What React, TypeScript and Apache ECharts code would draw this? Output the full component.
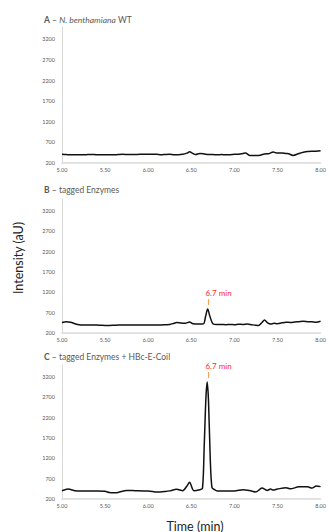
import React, { useEffect, useRef } from "react";
import * as echarts from "echarts";

// ---- Data ----
const xTicks = [5.0, 5.5, 6.0, 6.5, 7.0, 7.5, 8.0];
const yTicks = [200, 700, 1200, 1700, 2200, 2700, 3200];

const timesA = [5.0, 5.05, 5.1, 5.15, 5.2, 5.25, 5.3, 5.35, 5.4, 5.45, 5.5, 5.55, 5.6, 5.65, 5.7, 5.75, 5.8, 5.85, 5.9, 5.95, 6.0, 6.05, 6.1, 6.15, 6.2, 6.25, 6.3, 6.35, 6.4, 6.45, 6.48, 6.52, 6.55, 6.6, 6.65, 6.7, 6.75, 6.8, 6.85, 6.9, 6.95, 7.0, 7.05, 7.1, 7.13, 7.17, 7.2, 7.25, 7.3, 7.35, 7.4, 7.45, 7.5, 7.55, 7.6, 7.63, 7.68, 7.75, 7.8, 7.85, 7.9, 7.95, 8.0];
const intensityA = [410, 405, 400, 400, 400, 400, 405, 408, 400, 400, 400, 400, 400, 405, 410, 408, 405, 408, 410, 412, 415, 412, 410, 400, 408, 412, 400, 400, 410, 440, 470, 430, 405, 430, 420, 405, 405, 400, 405, 400, 402, 410, 415, 430, 440, 390, 385, 385, 390, 420, 425, 465, 440, 445, 430, 425, 385, 430, 460, 480, 485, 485, 495];

const timesB = [5.0, 5.05, 5.1, 5.15, 5.2, 5.25, 5.3, 5.35, 5.4, 5.45, 5.5, 5.55, 5.6, 5.65, 5.7, 5.75, 5.8, 5.85, 5.9, 5.95, 6.0, 6.05, 6.1, 6.15, 6.2, 6.25, 6.3, 6.33, 6.38, 6.43, 6.48, 6.52, 6.58, 6.64, 6.665, 6.69, 6.715, 6.75, 6.8, 6.85, 6.9, 6.95, 7.0, 7.05, 7.1, 7.15, 7.2, 7.25, 7.28, 7.32, 7.35, 7.38, 7.42, 7.46, 7.5, 7.55, 7.6, 7.65, 7.7, 7.75, 7.8, 7.85, 7.9, 7.95, 8.0];
const intensityB = [460, 480, 465, 430, 405, 400, 400, 395, 395, 390, 385, 385, 390, 395, 400, 400, 395, 400, 400, 395, 400, 395, 400, 400, 405, 410, 440, 460, 445, 440, 470, 425, 420, 425, 600, 790, 620, 430, 410, 410, 405, 408, 405, 415, 410, 420, 405, 390, 385, 460, 520, 460, 420, 440, 430, 450, 465, 460, 470, 480, 490, 480, 475, 465, 490];

const timesC = [5.0, 5.07, 5.15, 5.2, 5.3, 5.4, 5.5, 5.55, 5.6, 5.65, 5.75, 5.85, 5.95, 6.0, 6.1, 6.2, 6.25, 6.33, 6.4, 6.45, 6.48, 6.53, 6.6, 6.63, 6.65, 6.67, 6.685, 6.7, 6.72, 6.74, 6.77, 6.8, 6.9, 7.0, 7.1, 7.2, 7.25, 7.32, 7.38, 7.42, 7.45, 7.5, 7.6, 7.65, 7.75, 7.85, 7.9, 7.95, 8.0];
const intensityC = [405, 445, 405, 395, 395, 395, 390, 360, 355, 360, 410, 405, 400, 400, 370, 385, 400, 440, 405, 520, 610, 405, 430, 460, 1500, 2700, 3080, 2600, 1200, 480, 430, 400, 400, 400, 430, 395, 375, 470, 410, 445, 420, 445, 480, 450, 500, 500, 470, 520, 505];

const peakTime = 6.7;
const peakB = 790;
const peakC = 3080;

const zip = (t: number[], v: number[]) => t.map((x, i) => [x, v[i]]);

const gray = "#595959";
const font = "Lato";

export default function App() {
  const ref = useRef<HTMLDivElement>(null);
  useEffect(() => {
    if (!ref.current) return;
    const chart = echarts.init(ref.current, undefined, { renderer: "svg" });
    const grids = [
      { left: 62, width: 261, top: 27, height: 136 },
      { left: 62, width: 261, top: 199, height: 134 },
      { left: 62, width: 261, top: 365, height: 134 },
    ];
    const xAxes = grids.map((_, i) => ({
      type: "value",
      gridIndex: i,
      min: xTicks[0],
      max: xTicks[xTicks.length - 1],
      interval: 0.5,
      axisLine: { show: true, onZero: false, lineStyle: { color: "#d9d9d9", width: 1.5 } },
      axisTick: { show: false },
      splitLine: { show: false },
      axisLabel: {
        fontSize: 5.5,
        color: gray,
        fontFamily: font,
        margin: 4,
        formatter: (v: number) => v.toFixed(2),
      },
    }));
    const yAxes = grids.map((_, i) => ({
      type: "value",
      gridIndex: i,
      min: yTicks[0],
      max: 3500,
      interval: 500,
      axisLine: { show: true, lineStyle: { color: "#d9d9d9", width: 1 } },
      axisTick: { show: false },
      splitLine: { show: false },
      axisLabel: {
        fontSize: 5.5,
        color: gray,
        fontFamily: font,
        margin: 7,
        formatter: (v: number) => (yTicks.includes(v) ? String(v) : ""),
      },
    }));
    const markFor = (peak: number) => ({
      silent: true,
      animation: false,
      symbol: "rect",
      symbolSize: [1.2, 6],
      symbolOffset: [0, -7],
      itemStyle: { color: "#f4a460" },
      label: {
        show: true,
        position: "top",
        distance: 2,
        offset: [10, 0],
        formatter: "6.7 min",
        color: "#ff2a2a",
        fontSize: 8,
        fontFamily: font,
      },
      data: [{ coord: [peakTime, peak] }],
    });
    const lineStyle = { color: "#111", width: 1.5 };
    const series: any[] = [
      { type: "line", xAxisIndex: 0, yAxisIndex: 0, data: zip(timesA, intensityA), showSymbol: false, smooth: 0.3, lineStyle },
      { type: "line", xAxisIndex: 1, yAxisIndex: 1, data: zip(timesB, intensityB), showSymbol: false, smooth: 0.3, lineStyle, markPoint: markFor(peakB) },
      { type: "line", xAxisIndex: 2, yAxisIndex: 2, data: zip(timesC, intensityC), showSymbol: false, smooth: 0.3, lineStyle, markPoint: markFor(peakC) },
    ];
    const titleStyle = { fill: gray, fontSize: 8.5, fontFamily: font, verticalAlign: "middle" };
    chart.setOption({
      animation: false,
      backgroundColor: "#fff",
      grid: grids,
      xAxis: xAxes,
      yAxis: yAxes,
      series,
      graphic: [
        {
          type: "text",
          x: 44,
          y: 20,
          style: {
            ...titleStyle,
            text: "{b|A} – {i|N. benthamiana} WT",
            rich: {
              b: { fontWeight: "bold", fontSize: 8.5, fontFamily: font, fill: gray },
              i: { fontStyle: "italic", fontSize: 8.5, fontFamily: font, fill: gray },
            },
          },
        },
        {
          type: "text",
          x: 44,
          y: 190,
          style: { ...titleStyle, text: "{b|B} – tagged Enzymes", rich: { b: { fontWeight: "bold", fontSize: 8.5, fontFamily: font, fill: gray } } },
        },
        {
          type: "text",
          x: 44,
          y: 357,
          style: { ...titleStyle, text: "{b|C} – tagged Enzymes + HBc-E-Coil", rich: { b: { fontWeight: "bold", fontSize: 8.5, fontFamily: font, fill: gray } } },
        },
        {
          type: "text",
          x: 18,
          y: 258,
          rotation: Math.PI / 2,
          style: { text: "Intensity (aU)", fill: "#222", fontSize: 12.5, fontFamily: font, align: "center", verticalAlign: "middle" },
        },
        {
          type: "text",
          x: 195,
          y: 526,
          style: { text: "Time (min)", fill: "#222", fontSize: 12.5, fontFamily: font, align: "center", verticalAlign: "middle" },
        },
      ],
    });
    return () => chart.dispose();
  }, []);
  return <div ref={ref} style={{ position: "fixed", left: 0, top: 0, width: 329, height: 532 }} />;
}
